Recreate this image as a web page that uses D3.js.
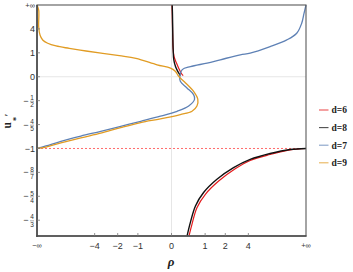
<!DOCTYPE html>
<html><head><meta charset="utf-8">
<script src="https://cdn.jsdelivr.net/npm/d3@7"></script>
<style>body{margin:0;background:#fff}svg{display:block}</style>
</head><body>
<svg id="c" width="353" height="272"></svg>
<script>
// ---- data (rho, u*') ----
const xTickValues = [-Infinity, -4, -2, -1, 0, 1, 2, 4, Infinity];
const xTickLabels = ["−∞", "−4", "−2", "−1", "0", "1", "2", "4", "+∞"];
const yTickValues = [Infinity, 4, 1, 0, -1/2, -4/5, -1, -8/7, -5/4, -4/3];
const yTickLabels = ["+∞", "4", "1", "0", "−1/2", "−4/5", "−1", "−8/7", "−5/4", "−4/3"];

const d6UpperRho = [0.012, 0.018, 0.025, 0.034, 0.057, 0.115, 0.17, 0.23, 0.285];
const d6UpperU   = [Infinity, 12, 3.1, 1.4, 0.79, 0.47, 0.27, 0.11, 0.03];
const d6LowerRho = [0.45, 0.54, 0.70, 1.01, 1.62, 2.7, 4.23, 8.25, 22.2, Infinity];
const d6LowerU   = [-1.378, -1.345, -1.292, -1.242, -1.185, -1.124, -1.077, -1.04, -1.01, -1];

const d8UpperRho = [0.016, 0.022, 0.029, 0.038, 0.052, 0.092, 0.147, 0.197, 0.21];
const d8UpperU   = [Infinity, 12.4, 3.08, 1.2, 0.62, 0.33, 0.16, 0.057, 0.03];
const d8LowerRho = [0.395, 0.49, 0.65, 0.94, 1.53, 2.57, 4.23, 8.25, 22.2, Infinity];
const d8LowerU   = [-1.378, -1.34, -1.286, -1.235, -1.177, -1.118, -1.071, -1.034, -1.007, -1];

const d7Rho = [-Infinity, -42, -13.9, -6.2, -3.33, -1.82, -0.89, -0.27, 0.13, 0.44, 0.62, 0.59, 0.39, 0.21, 0.20, 0.26, 0.49, 1.08, 1.71, 3.14, 4.23, 8.25, 18, 40.5, 91, 200, Infinity];
const d7U   = [-1, -0.982, -0.947, -0.905, -0.864, -0.817, -0.766, -0.71, -0.65, -0.58, -0.48, -0.40, -0.27, -0.12, 0.03, 0.22, 0.33, 0.47, 0.62, 0.88, 0.98, 1.45, 2.11, 3.08, 5.9, 15.2, Infinity];

const d9Rho = [-Infinity, -235, -235, -131.5, -67.8, -34.7, -18.2, -9.5, -5.23, -3.14, -1.90, -1.08, -0.36, -0.022, 0.092, 0.17, 0.35, 0.59, 0.73, 0.70, 0.54, 0.21, -0.27, -0.89, -1.82, -3.33, -6.2, -13.9, -42, -Infinity];
const d9U   = [Infinity, 26.7, 4.61, 2.78, 2.1, 1.75, 1.5, 1.31, 1.12, 0.97, 0.83, 0.69, 0.4, 0.27, 0.16, 0.01, -0.16, -0.34, -0.48, -0.58, -0.65, -0.69, -0.74, -0.78, -0.83, -0.88, -0.92, -0.96, -0.99, -1];

const legendLabels = ["d=6", "d=8", "d=7", "d=9"];
const legendColors = ["#e41a1c", "#111111", "#5e81b5", "#e19c24"];

// ---- compactified scales ----
const tx = r => r === Infinity ? 1 : r === -Infinity ? -1 : r / (3 + Math.abs(r));
const ty = u => u === Infinity ? 1 : (u + 1) / (u + 2);
const xLin = d3.scaleLinear().domain([-1, 1]).range([37, 306]);
const yLin = d3.scaleLinear().domain([-0.61, 1]).range([236, 5]);
const X = r => xLin(tx(r));
const Y = u => yLin(ty(u));

const svg = d3.select("#c");
const L = 37, R = 306, T = 5, B = 236;

svg.append("defs").append("clipPath").attr("id", "clip")
  .append("rect").attr("x", L - 1).attr("y", T - 1).attr("width", R - L + 2).attr("height", B - T + 2);

// grid
svg.append("line").attr("x1", X(0)).attr("x2", X(0)).attr("y1", T).attr("y2", B)
  .attr("stroke", "#e6e6e6").attr("stroke-width", 1);
svg.append("line").attr("x1", L).attr("x2", R).attr("y1", Y(0)).attr("y2", Y(0))
  .attr("stroke", "#e6e6e6").attr("stroke-width", 1);

// dashed asymptote
svg.append("line").attr("x1", X(-Infinity)).attr("x2", X(Infinity)).attr("y1", Y(-1)).attr("y2", Y(-1))
  .attr("stroke", "#ff6b6b").attr("stroke-width", 1).attr("stroke-dasharray", "2,2");

// curves
const line = d3.line().x(d => X(d[0])).y(d => Y(d[1])).curve(d3.curveCatmullRom.alpha(0.5));
const zip = (a, b) => a.map((v, i) => [v, b[i]]);
const g = svg.append("g").attr("clip-path", "url(#clip)");
const curves = [
  [d6UpperRho, d6UpperU, legendColors[0], 1.2],
  [d6LowerRho, d6LowerU, legendColors[0], 1.2],
  [d8UpperRho, d8UpperU, legendColors[1], 1.4],
  [d8LowerRho, d8LowerU, legendColors[1], 1.4],
  [d7Rho, d7U, legendColors[2], 1.3],
  [d9Rho, d9U, legendColors[3], 1.3]
];
curves.forEach(c => {
  g.append("path").attr("d", line(zip(c[0], c[1]))).attr("fill", "none")
    .attr("stroke", c[2]).attr("stroke-width", c[3]).attr("stroke-linejoin", "round");
});

// frame
svg.append("rect").attr("x", L).attr("y", T).attr("width", R - L).attr("height", B - T)
  .attr("fill", "none").attr("stroke", "#5a5a5a").attr("stroke-width", 1.1);
svg.append("line").attr("x1", L).attr("x2", L).attr("y1", T).attr("y2", B + 1)
  .attr("stroke", "#4a4a4a").attr("stroke-width", 1.6);
svg.append("line").attr("x1", L - 0.8).attr("x2", R + 0.5).attr("y1", B).attr("y2", B)
  .attr("stroke", "#4a4a4a").attr("stroke-width", 1.6);

// x ticks
const font = "'Liberation Sans', Arial, sans-serif";
xTickValues.forEach((v, i) => {
  const x = X(v);
  if (isFinite(v)) svg.append("line").attr("x1", x).attr("x2", x).attr("y1", B).attr("y2", B - 3)
    .attr("stroke", "#777").attr("stroke-width", 0.8);
  const inf = !isFinite(v);
  svg.append("text").attr("x", x).attr("y", inf ? 248 : 249).attr("text-anchor", "middle")
    .attr("font-family", font).attr("font-size", inf ? 7.5 : 9).attr("fill", "#333")
    .text(xTickLabels[i]);
});

// y ticks
yTickValues.forEach((v, i) => {
  const y = Y(v);
  if (isFinite(v)) svg.append("line").attr("x1", L).attr("x2", L + 3).attr("y1", y).attr("y2", y)
    .attr("stroke", "#777").attr("stroke-width", 0.8);
  const lab = yTickLabels[i];
  if (lab.includes("/")) {
    const neg = lab.startsWith("−");
    const [num, den] = lab.replace("−", "").split("/");
    svg.append("text").attr("x", 28.5).attr("y", y + 3).attr("text-anchor", "end")
      .attr("font-family", font).attr("font-size", 9).attr("fill", "#333").text(neg ? "−" : "");
    svg.append("text").attr("x", 32).attr("y", y - 0.8).attr("text-anchor", "middle")
      .attr("font-family", font).attr("font-size", 6.5).attr("fill", "#333").text(num);
    svg.append("line").attr("x1", 30).attr("x2", 34).attr("y1", y + 0.6).attr("y2", y + 0.6)
      .attr("stroke", "#555").attr("stroke-width", 0.5);
    svg.append("text").attr("x", 32).attr("y", y + 6.6).attr("text-anchor", "middle")
      .attr("font-family", font).attr("font-size", 6.5).attr("fill", "#333").text(den);
  } else {
    const inf = lab.includes("∞");
    svg.append("text").attr("x", 35).attr("y", y + (inf ? 3 : 3.2)).attr("text-anchor", "end")
      .attr("font-family", font).attr("font-size", inf ? 7.5 : 9).attr("fill", "#333").text(lab);
  }
});

// axis labels
const yl = svg.append("text").attr("transform", "translate(10.5,128.5) rotate(-90)")
  .attr("font-family", "'Liberation Serif', 'DejaVu Serif', serif").attr("font-weight", "bold")
  .attr("fill", "#222");
yl.append("tspan").attr("font-size", 11.5).text("u");
yl.append("tspan").attr("font-size", 8).attr("dy", 8.5).attr("dx", 1).text("*");
yl.append("tspan").attr("font-size", 11).attr("dy", -7.5).attr("dx", 0.5).text("′");

svg.append("text").attr("x", 171).attr("y", 266).attr("text-anchor", "middle")
  .attr("font-family", "'Liberation Serif', 'DejaVu Serif', serif").attr("font-weight", "bold")
  .attr("font-style", "italic").attr("font-size", 13).attr("fill", "#222").text("ρ");

// legend
const lg = svg.append("g");
legendLabels.forEach((lab, i) => {
  const y = 110 + i * 17.6;
  lg.append("line").attr("x1", 319).attr("x2", 328.5).attr("y1", y).attr("y2", y)
    .attr("stroke", legendColors[i]).attr("stroke-width", 1.1).attr("stroke-opacity", 0.75);
  lg.append("text").attr("x", 331.5).attr("y", y + 3.3)
    .attr("font-family", "'Liberation Serif', 'DejaVu Serif', serif").attr("font-weight", "bold")
    .attr("font-size", 9.5).attr("fill", "#222").text(lab);
});
</script>
</body></html>
